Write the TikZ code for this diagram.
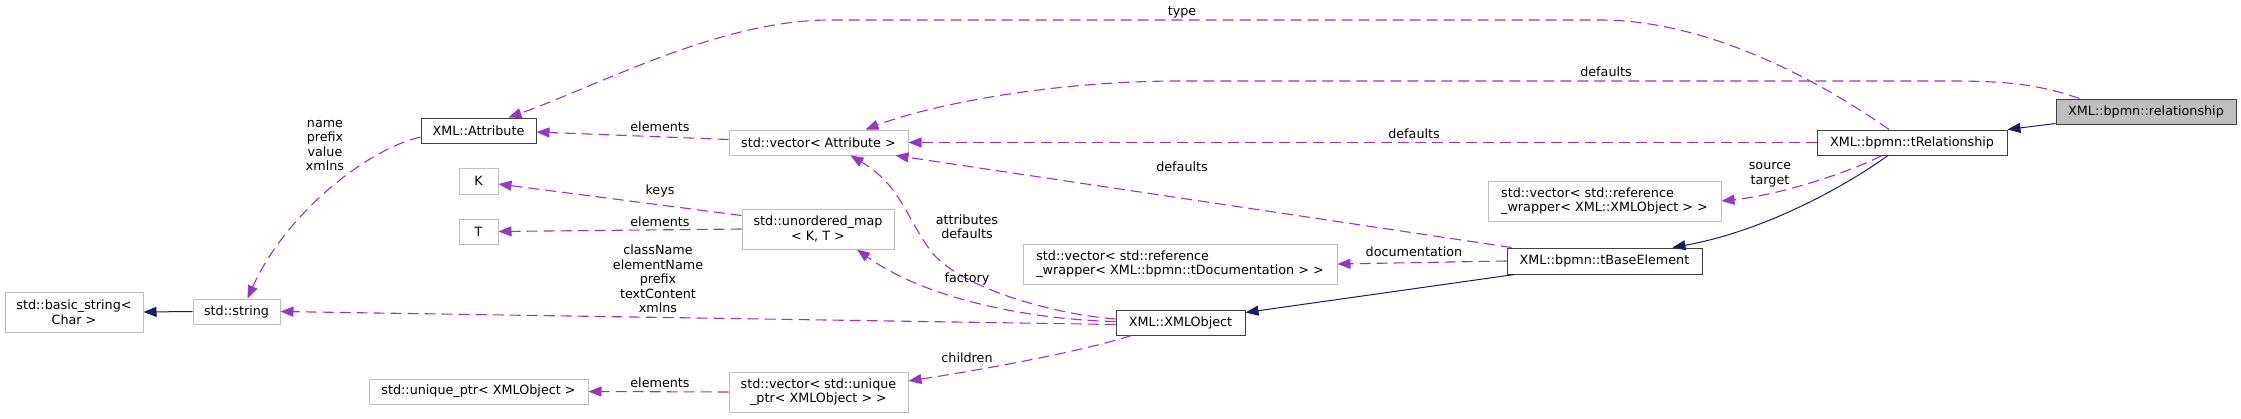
\documentclass[tikz,border=0pt]{standalone}
\usepackage{fontspec}
\setmainfont{DejaVu Sans}
\usepackage{xcolor}
\usepackage{tikz}
\usetikzlibrary{arrows.meta,calc}
\definecolor{cUse}{HTML}{9A32CD}
\definecolor{cInh}{HTML}{191970}
\definecolor{cExt}{HTML}{BFBFBF}
\definecolor{cDoc}{HTML}{404040}
\definecolor{cFocus}{HTML}{BFBFBF}
\newcommand{\dfont}{\fontsize{12.75}{14.5}\selectfont}
\tikzset{
  box/.style  ={rectangle, inner sep=0pt, align=center, font=\dfont, line width=1pt},
  cls/.style  ={box, draw=cDoc, fill=white},
  ext/.style  ={box, draw=cExt, fill=white, line width=1pt},
  focus/.style={box, draw=cDoc, fill=cFocus},
  use/.style  ={-{Triangle[length=13pt,width=10pt]}, draw=cUse, line width=1.1pt,
                dash pattern=on 11pt off 6pt},
  inh/.style  ={-{Triangle[length=13pt,width=10pt]}, draw=cInh, line width=1pt},
  lbl/.style  ={font=\dfont, inner sep=0pt, align=center},
}

\begin{document}
\begin{tikzpicture}[x=1pt,y=-1pt]
  \useasboundingbox (0,0) rectangle (2241,418);
  \node[focus,minimum width=180pt,minimum height=25pt] (rel) at (2146,111.5) {XML::bpmn::relationship};
  \node[cls,minimum width=190pt,minimum height=25pt] (trel) at (1912,142.5) {XML::bpmn::tRelationship};
  \node[ext,minimum width=233pt,minimum height=40pt,align=left] (refx) at (1604.5,201) {std::vector< std::reference\\\_wrapper< XML::XMLObject > >};
  \node[cls,minimum width=195pt,minimum height=26pt] (tbase) at (1604.5,261) {XML::bpmn::tBaseElement};
  \node[ext,minimum width=314pt,minimum height=40pt,align=left] (refdoc) at (1180,264) {std::vector< std::reference\\\_wrapper< XML::bpmn::tDocumentation > >};
  \node[cls,minimum width=129pt,minimum height=25pt] (xobj) at (1180.5,322.5) {XML::XMLObject};
  \node[ext,minimum width=179pt,minimum height=40pt] (vupt) at (818.5,392) {std::vector< std::unique\\\_ptr< XMLObject > >};
  \node[ext,minimum width=219pt,minimum height=25pt] (upt) at (478.5,391.5) {std::unique\_ptr< XMLObject >};
  \node[ext,minimum width=152pt,minimum height=40pt] (umap) at (818,229) {std::unordered\_map\\< K, T >};
  \node[ext,minimum width=39pt,minimum height=26pt] (kk) at (478.5,181) {K};
  \node[ext,minimum width=39pt,minimum height=25pt] (tt) at (478.5,231.5) {T};
  \node[ext,minimum width=179pt,minimum height=25pt] (vattr) at (818.5,142.5) {std::vector< Attribute >};
  \node[cls,minimum width=115pt,minimum height=25pt] (attr) at (478.5,130.5) {XML::Attribute};
  \node[ext,minimum width=87pt,minimum height=25pt] (str) at (236.5,311.5) {std::string};
  \node[ext,minimum width=138pt,minimum height=40pt] (bstr) at (74,312) {std::basic\_string<\\Char >};
  \draw[inh] ($(rel.south west)+(0,-1)$) -- (trel.north east);
  \draw[inh] ($(trel.south)+(-24,0)$) .. controls (1840,190) and (1760,232) .. ($(tbase.north)+(68,0)$);
  \draw[inh] ($(tbase.south west)+(8,0)$) -- ($(xobj.north east)+(0,3)$);
  \draw[inh] (str.west) -- (bstr.east);
  \draw[use] ($(trel.north)+(-23,0)$) .. controls (1840,95) and (1720,20) .. (1600,20) -- (830,20) .. controls (720,20) and (600,85) .. ($(attr.north)+(30,0)$);
  \node[lbl] (ltype) at (1182,12) {type};
  \draw[use] ($(rel.north west)+(24,0)$) .. controls (2040,85) and (2010,81) .. (1950,81) -- (1180,81) .. controls (1050,81) and (930,105) .. ($(vattr.north)+(47,0)$);
  \node[lbl] (ldefr) at (1606,72) {defaults};
  \draw[use] (trel.west) -- (vattr.east);
  \node[lbl] (ldeft) at (1414,134) {defaults};
  \draw[use] ($(tbase.north west)+(5,0)$) -- ($(vattr.south east)+(-13,0)$);
  \node[lbl] (ldefb) at (1182,167) {defaults};
  \draw[use] ($(trel.south)+(-30,0)$) .. controls (1850,172) and (1780,195) .. (refx.east);
  \node[lbl] (lsrc) at (1770,175) {source\\target};
  \draw[use] (tbase.west) -- (refdoc.east);
  \node[lbl] (ldoc) at (1414,252) {documentation};
  \draw[use] ($(xobj.west)+(0,-3.5)$) .. controls (1060,315) and (960,290) .. (930,250) .. controls (905,215) and (900,185) .. ($(vattr.south)+(32,0)$);
  \node[lbl] (lattr) at (967,226.5) {attributes\\defaults};
  \draw[use] ($(xobj.west)+(0,-1)$) .. controls (1040,320) and (930,302) .. ($(umap.south)+(39,0)$);
  \node[lbl] (lfac) at (967,279) {factory};
  \draw[use] ($(xobj.west)+(0,2)$) -- (str.east);
  \node[lbl] (lcls) at (658,279) {className\\elementName\\prefix\\textContent\\xmlns};
  \draw[use] ($(xobj.south west)+(16,0)$) .. controls (1080,352) and (980,370) .. ($(vupt.east)+(0,-11)$);
  \node[lbl] (lchild) at (967,358) {children};
  \draw[use] (vupt.west) -- (upt.east);
  \node[lbl] (lelu) at (660,383) {elements};
  \draw[use] ($(vattr.west)+(0,-3)$) -- ($(attr.east)+(0,1.5)$);
  \node[lbl] (lela) at (660,127) {elements};
  \draw[use] ($(umap.north west)+(0,7)$) -- ($(kk.east)+(0,3)$);
  \node[lbl] (lkeys) at (660,191) {keys};
  \draw[use] (umap.west) -- (tt.east);
  \node[lbl] (lelt) at (660,222) {elements};
  \draw[use] ($(attr.west)+(0,6.5)$) .. controls (365,150) and (285,215) .. ($(str.north)+(11,0)$);
  \node[lbl] (lname) at (325,145.5) {name\\prefix\\value\\xmlns};
\end{tikzpicture}
\end{document}
